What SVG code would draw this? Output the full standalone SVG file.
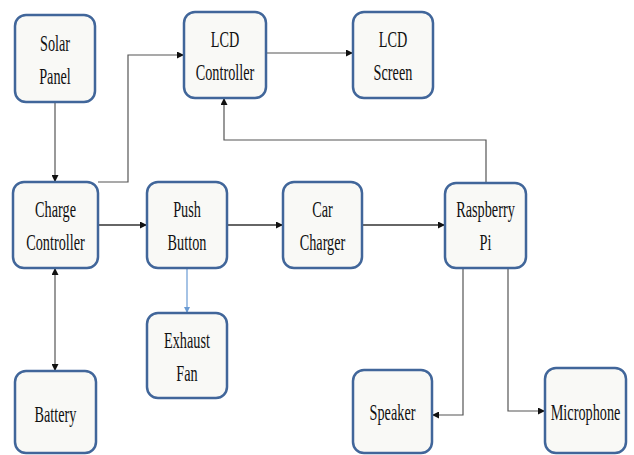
<svg xmlns="http://www.w3.org/2000/svg" width="634" height="455" viewBox="0 0 634 455">
<defs>
<style>
.box{fill:#f9f9f6;stroke:#41669a;stroke-width:2.5}
.lbl{font-family:"Liberation Serif","Times New Roman","DejaVu Serif",serif;font-size:23px;fill:#111;text-anchor:middle}
.c{fill:none;stroke:#555;stroke-width:1.2}
.d{fill:none;stroke:#333;stroke-width:1.6}
.b{fill:none;stroke:#6a9bd4;stroke-width:1.2}
</style>
<marker id="ah" viewBox="0 0 10 10" refX="10" refY="5" markerWidth="7" markerHeight="7" markerUnits="userSpaceOnUse" orient="auto-start-reverse"><path d="M0,0 L10,5 L0,10 z" fill="#111"/></marker>
<marker id="ahb" viewBox="0 0 10 10" refX="10" refY="5" markerWidth="6" markerHeight="6" markerUnits="userSpaceOnUse" orient="auto"><path d="M0,0 L10,5 L0,10 z" fill="#6a9bd4"/></marker>
</defs>
<rect width="634" height="455" fill="#fff"/>
<g id="connectors">
<path class="c" d="M55,102 V182" marker-end="url(#ah)"/>
<path class="c" d="M98,182 H128 V55 H184" marker-end="url(#ah)"/>
<path class="c" d="M266,53 H353" marker-end="url(#ah)"/>
<path class="c" d="M486,183 V140 H224 V98" marker-end="url(#ah)"/>
<path class="d" d="M98,225 H147" marker-end="url(#ah)"/>
<path class="d" d="M227,225 H283" marker-end="url(#ah)"/>
<path class="d" d="M362,225 H445" marker-end="url(#ah)"/>
<path class="b" d="M187,268 V313" marker-end="url(#ahb)"/>
<path class="c" d="M55,268 V371" marker-start="url(#ah)" marker-end="url(#ah)"/>
<path class="c" d="M463,268 V415 H432" marker-end="url(#ah)"/>
<path class="c" d="M508,268 V411 H545" marker-end="url(#ah)"/>
</g>
<g id="solar-panel"><rect class="box" x="15" y="15" width="80" height="87" rx="11"/>
<text class="lbl" transform="translate(55,50.5) scale(0.62,1)">Solar</text>
<text class="lbl" transform="translate(55,83.5) scale(0.62,1)">Panel</text></g>
<g id="lcd-controller"><rect class="box" x="184" y="12" width="82" height="86" rx="11"/>
<text class="lbl" transform="translate(225,47) scale(0.62,1)">LCD</text>
<text class="lbl" transform="translate(225,79.5) scale(0.62,1)">Controller</text></g>
<g id="lcd-screen"><rect class="box" x="353" y="12" width="80" height="86" rx="11"/>
<text class="lbl" transform="translate(393,47) scale(0.62,1)">LCD</text>
<text class="lbl" transform="translate(393,79.5) scale(0.62,1)">Screen</text></g>
<g id="charge-controller"><rect class="box" x="13" y="182" width="85" height="86" rx="11"/>
<text class="lbl" transform="translate(55.5,217) scale(0.62,1)">Charge</text>
<text class="lbl" transform="translate(55.5,250) scale(0.62,1)">Controller</text></g>
<g id="push-button"><rect class="box" x="147" y="182" width="80" height="86" rx="11"/>
<text class="lbl" transform="translate(187,217) scale(0.62,1)">Push</text>
<text class="lbl" transform="translate(187,250) scale(0.62,1)">Button</text></g>
<g id="car-charger"><rect class="box" x="283" y="182" width="79" height="86" rx="11"/>
<text class="lbl" transform="translate(322.5,217) scale(0.62,1)">Car</text>
<text class="lbl" transform="translate(322.5,250) scale(0.62,1)">Charger</text></g>
<g id="raspberry-pi"><rect class="box" x="445" y="183" width="81" height="85" rx="11"/>
<text class="lbl" transform="translate(485.5,217) scale(0.62,1)">Raspberry</text>
<text class="lbl" transform="translate(485.5,250) scale(0.62,1)">Pi</text></g>
<g id="exhaust-fan"><rect class="box" x="147" y="313" width="80" height="85" rx="11"/>
<text class="lbl" transform="translate(187,348) scale(0.62,1)">Exhaust</text>
<text class="lbl" transform="translate(187,381) scale(0.62,1)">Fan</text></g>
<g id="battery"><rect class="box" x="15" y="371" width="81" height="82" rx="11"/>
<text class="lbl" transform="translate(55.5,422) scale(0.62,1)">Battery</text></g>
<g id="speaker"><rect class="box" x="353" y="370" width="79" height="83" rx="11"/>
<text class="lbl" transform="translate(392.5,420) scale(0.62,1)">Speaker</text></g>
<g id="microphone"><rect class="box" x="545" y="368" width="81" height="85" rx="11"/>
<text class="lbl" transform="translate(585.5,419.5) scale(0.62,1)">Microphone</text></g>
</svg>
